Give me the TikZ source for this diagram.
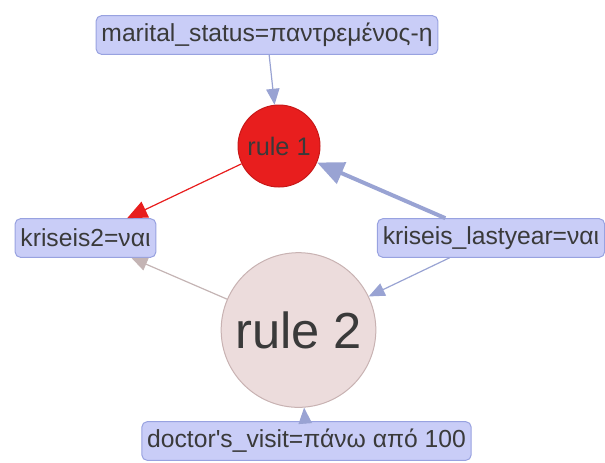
\documentclass[tikz,border=0pt]{standalone}
\usepackage{fontspec}
\setmainfont{Liberation Sans}
\usetikzlibrary{arrows.meta}
\definecolor{itemfill}{HTML}{C9CDF7}
\definecolor{itemdraw}{HTML}{98A2E0}
\definecolor{edgeblue}{HTML}{99A3D3}
\definecolor{ruleA}{HTML}{E81E1E}
\definecolor{ruleAdraw}{HTML}{C81818}
\definecolor{ruleB}{HTML}{ECDCDC}
\definecolor{ruleBdraw}{HTML}{C8B2B2}
\definecolor{edgebrown}{HTML}{C4B4B4}
\definecolor{txt}{HTML}{3A3A3A}

\begin{document}
\begin{tikzpicture}[
    x=0.75pt, y=-0.75pt,
    item/.style={draw=itemdraw, fill=itemfill, rounded corners=4pt, line width=0.75pt,
      text=txt, font=\fontsize{18.5}{22}\selectfont, inner xsep=4pt, minimum height=29pt},
    rule/.style={circle, line width=0.75pt, text=txt, inner sep=0pt},
    edge/.style={draw=edgeblue, line width=0.9pt, -{Triangle[length=12pt,width=10pt]}},
  ]
    \useasboundingbox (0,0) rectangle (605,462);

    \node[item] (ms) at (267,35)  {marital\_status=παντρεμένος-η};
    \node[item] (k2) at (85.5,238)  {kriseis2=ναι};
    \node[item] (kl) at (491,238) {kriseis\_lastyear=ναι};
    \node[item] (dv) at (306.5,441) {doctor\textquotesingle s\_visit=πάνω από 100};

    \node[rule, fill=ruleA, draw=ruleAdraw, minimum size=61.5pt,
      font=\fontsize{19}{22}\selectfont] (r1) at (279,146) {rule 1};
    \node[rule, fill=ruleB, draw=ruleBdraw, minimum size=116pt,
      font=\fontsize{38}{44}\selectfont] (r2) at (298.5,330) {rule 2};

    \draw[edge] (ms) -- (r1);
    \draw[edge, line width=3pt, -{Triangle[length=20pt,width=17pt]}] (kl) -- (r1);
    \draw[edge] (kl) -- (r2);
    \draw[edge] (dv) -- (r2);
    \draw[edge, draw=ruleA, fill=ruleA, -{Triangle[length=15pt,width=13pt]}] (r1) -- (k2);
    \draw[edge, draw=edgebrown] (r2) -- (k2);
\end{tikzpicture}
\end{document}
